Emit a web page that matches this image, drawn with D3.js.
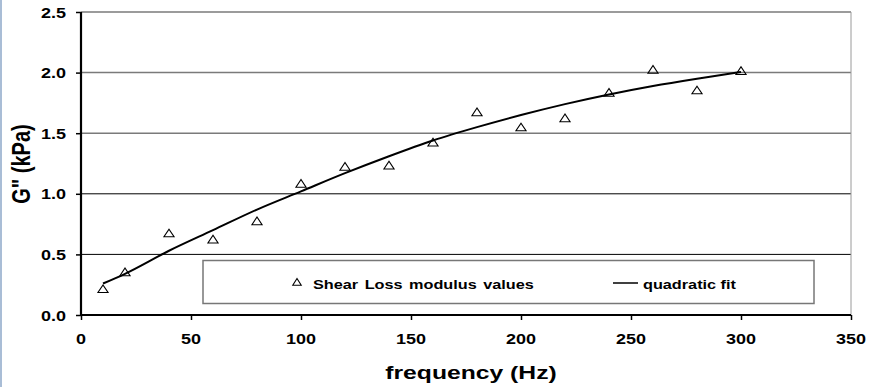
<!DOCTYPE html>
<html><head><meta charset="utf-8">
<script src="https://cdn.jsdelivr.net/npm/d3@7"></script>
<style>
html,body{margin:0;padding:0;background:#fff;}
svg{display:block;}
text{font-family:"Liberation Sans",Arial,sans-serif;font-weight:bold;fill:#000;}
</style></head>
<body>
<svg id="chart" width="871" height="387"></svg>
<script>
const frequency = [10,20,40,60,80,100,120,140,160,180,200,220,240,260,280,300];
const lossModulus = [0.21,0.35,0.67,0.62,0.77,1.08,1.22,1.23,1.42,1.67,1.545,1.62,1.83,2.02,1.85,2.01];
const fitFrequency = [10,20,40,60,80,100,120,140,160,180,200,220,240,260,280,300];
const fitValues = [0.26,0.34,0.53,0.70,0.87,1.02,1.17,1.31,1.44,1.55,1.65,1.74,1.82,1.89,1.95,2.005];
const xTicks = [0,50,100,150,200,250,300,350];
const yTicks = [0.0,0.5,1.0,1.5,2.0,2.5];
const seriesNames = ["Shear Loss modulus values","quadratic fit"];
const xTitle = "frequency (Hz)";
const yTitle = "G\" (kPa)";

const svg = d3.select("#chart");
const L = 81, R = 851, T = 12, B = 315;
const SX = 1.25; // horizontal text stretch

const x = d3.scaleLinear().domain([0,350]).range([L,R]);
const y = d3.scaleLinear().domain([0,2.5]).range([B,T]);

// left blue edge
svg.append("rect").attr("x",0).attr("y",0).attr("width",2).attr("height",387).attr("fill","#a9bdd6");

// gridlines
svg.append("g").selectAll("line").data(yTicks.filter(d=>d>0)).join("line")
  .attr("x1",L).attr("x2",R).attr("y1",d=>y(d)).attr("y2",d=>y(d))
  .attr("stroke",d=>d>=1.5?"#7a7a7a":"#000").attr("stroke-width",d=>d>=1.5?1.5:1);
// right border
svg.append("line").attr("x1",R).attr("x2",R).attr("y1",T).attr("y2",B)
  .attr("stroke","#9a9a9a").attr("stroke-width",1);

function stretchedText(g, tx, ty, str, size, anchor, sx){
  const t = g.append("g").attr("transform",`translate(${tx},${ty}) scale(${sx||SX},1)`)
    .append("text").attr("font-size",size).attr("text-anchor",anchor).text(str);
  return t;
}

// axes
const xAxis = d3.axisBottom(x).tickValues(xTicks).tickSize(5).tickFormat("");
const gx = svg.append("g").attr("transform",`translate(0,${B})`).call(xAxis);
gx.select(".domain").attr("stroke","#000").attr("stroke-width",2.2).attr("d",`M${L},0H${R}`);
gx.selectAll(".tick line").attr("stroke","#000").attr("stroke-width",1.5);
const yAxis = d3.axisLeft(y).tickValues(yTicks).tickSize(5).tickFormat("");
const gy = svg.append("g").attr("transform",`translate(${L},0)`).call(yAxis);
gy.select(".domain").attr("stroke","#000").attr("stroke-width",2.2).attr("d",`M0,${T}V${B}`);
gy.selectAll(".tick line").attr("stroke","#000").attr("stroke-width",1.5);

const labels = svg.append("g");
xTicks.forEach(v=>stretchedText(labels, x(v), 344, String(v), 15, "middle", 1.2));
yTicks.forEach(v=>stretchedText(labels, 66, y(v)+5.5, d3.format(".1f")(v), 15, "end", 1.2));

// axis titles
stretchedText(labels, 471, 379, xTitle, 19, "middle", 1.3);
svg.append("g").attr("transform",`translate(30,164) scale(1.3,1) rotate(-90)`)
  .append("text").attr("font-size",20).attr("text-anchor","middle").text(yTitle);

// fit line
const line = d3.line().x((d,i)=>x(fitFrequency[i])).y(d=>y(d)).curve(d3.curveMonotoneX);
svg.append("path").attr("d",line(fitValues)).attr("fill","none")
  .attr("stroke","#000").attr("stroke-width",2);

// markers
const tri = d3.symbol().type(d3.symbolTriangle).size(34);
svg.append("g").selectAll("path").data(lossModulus).join("path")
  .attr("transform",(d,i)=>`translate(${x(frequency[i])},${y(d)+0.5}) scale(1.15,1)`)
  .attr("d",tri()).attr("fill","none").attr("stroke","#000").attr("stroke-width",1);

// legend
const lg = svg.append("g");
lg.append("rect").attr("x",203).attr("y",260.5).attr("width",611).attr("height",43)
  .attr("fill","#fff").attr("stroke","#777").attr("stroke-width",1.5);
lg.append("path").attr("transform","translate(297,283) scale(1.1,1)").attr("d",d3.symbol().type(d3.symbolTriangle).size(26)())
  .attr("fill","none").attr("stroke","#000").attr("stroke-width",1);
stretchedText(lg, 313, 289, seriesNames[0], 13, "start").attr("word-spacing","1.6px");
lg.append("line").attr("x1",613).attr("x2",638).attr("y1",283).attr("y2",283).attr("stroke","#000").attr("stroke-width",1.5);
stretchedText(lg, 643, 289, seriesNames[1], 13, "start");
</script>
</body></html>
